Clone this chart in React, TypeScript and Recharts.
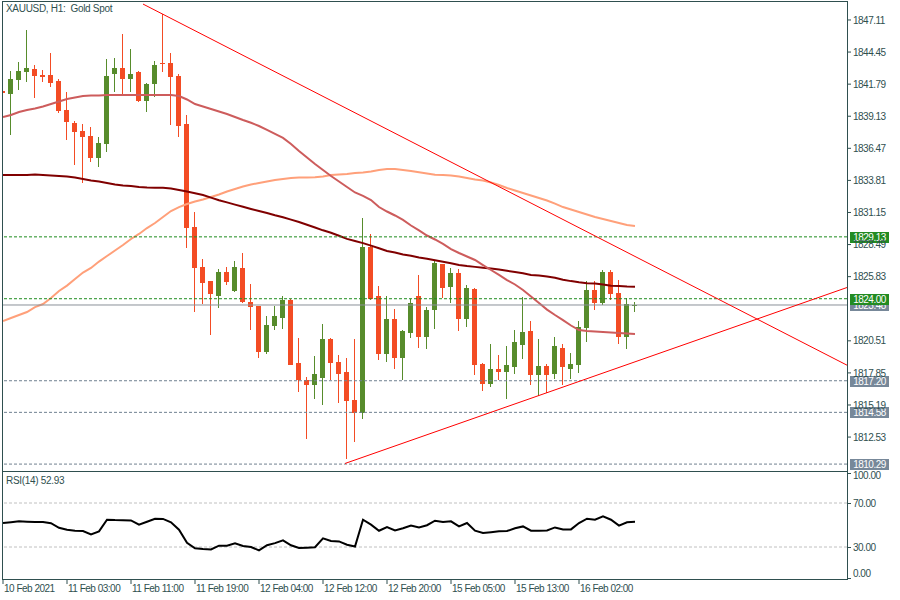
import { ComposedChart, Bar, Line, XAxis, YAxis, ReferenceLine } from "recharts";

// XAUUSD H1 candles, one entry per bar
const opens = [
  1841.18, 1840.97, 1842.13, 1842.8, 1843.05, 1842.55, 1842.55, 1842.05, 1839.65, 1838.57,
  1837.91, 1837.49, 1835.67, 1836.83, 1842.63, 1843.13, 1842.22, 1842.8, 1840.39, 1841.8,
  1843.54, 1843.54, 1842.47, 1838.49, 1829.95, 1826.63, 1825.47, 1824.22, 1826.21, 1824.64,
  1826.55, 1823.73, 1823.39, 1819.58, 1821.74, 1822.4, 1823.89, 1818.67, 1817.26, 1816.84,
  1817.42, 1820.66, 1818.75, 1817.92, 1815.6, 1814.52, 1828.29, 1824.22, 1819.41, 1822.32,
  1819.08, 1821.16, 1824.22, 1820.82, 1823.06, 1826.88, 1824.97, 1826.13, 1822.32, 1824.8,
  1818.59, 1816.93, 1818.17, 1817.92, 1818.34, 1820.16, 1821.32, 1817.67, 1818.42, 1817.76,
  1819.91, 1818.17, 1818.5, 1821.57, 1824.72, 1823.64, 1826.21, 1824.47, 1820.82, 1823.4,
];
const highs = [
  1841.25, 1842.88, 1843.63, 1846.28, 1843.38, 1842.96, 1844.37, 1842.22, 1841.14, 1838.73,
  1838.49, 1838.24, 1837.41, 1843.88, 1843.96, 1845.95, 1844.71, 1842.85, 1841.85, 1843.71,
  1847.61, 1844.37, 1842.63, 1839.23, 1831.19, 1827.29, 1825.5, 1826.46, 1826.63, 1827.13,
  1827.79, 1825.22, 1823.42, 1822.57, 1823.39, 1824.22, 1823.95, 1820.74, 1817.51, 1819.25,
  1821.9, 1820.74, 1819.33, 1819.08, 1820.66, 1830.69, 1829.37, 1825.05, 1824.22, 1823.15,
  1821.4, 1823.98, 1825.97, 1823.31, 1827.13, 1826.92, 1826.55, 1826.46, 1825.14, 1824.89,
  1818.67, 1820.24, 1819.33, 1820.08, 1821.4, 1824.14, 1822.15, 1820.66, 1818.59, 1820.82,
  1820.24, 1819.5, 1822.15, 1825.47, 1825.47, 1826.38, 1826.38, 1825.55, 1824.06, 1823.73,
];
const lows = [
  1841.0, 1837.57, 1841.31, 1841.97, 1840.64, 1841.97, 1841.55, 1839.4, 1837.16, 1835.09,
  1833.59, 1835.34, 1834.92, 1836.16, 1841.14, 1840.97, 1841.14, 1840.31, 1839.48, 1840.72,
  1842.8, 1838.4, 1837.41, 1828.2, 1822.9, 1823.56, 1820.99, 1823.23, 1825.14, 1824.6,
  1823.64, 1821.4, 1819.08, 1819.41, 1821.4, 1821.49, 1818.45, 1816.26, 1812.37, 1815.68,
  1815.19, 1817.26, 1815.35, 1810.71, 1812.12, 1814.03, 1823.89, 1818.92, 1818.75, 1818.17,
  1817.26, 1820.74, 1819.91, 1819.83, 1821.49, 1824.06, 1823.64, 1821.32, 1821.65, 1817.67,
  1816.35, 1816.68, 1817.26, 1815.68, 1817.76, 1819.0, 1816.84, 1815.93, 1816.18, 1817.34,
  1816.84, 1817.34, 1817.84, 1820.41, 1823.06, 1823.48, 1823.89, 1820.24, 1819.83, 1822.9,
];
const closes = [
  1841.05, 1842.22, 1842.88, 1843.13, 1842.47, 1842.38, 1841.89, 1839.56, 1838.65, 1837.82,
  1837.41, 1835.67, 1836.91, 1842.47, 1843.13, 1842.22, 1842.63, 1840.39, 1841.8, 1843.38,
  1843.46, 1842.38, 1838.32, 1829.86, 1826.55, 1825.3, 1824.39, 1826.21, 1825.38, 1826.63,
  1823.73, 1823.31, 1819.58, 1821.82, 1822.57, 1823.89, 1818.5, 1817.26, 1816.84, 1817.76,
  1820.66, 1818.67, 1817.76, 1815.52, 1814.52, 1828.29, 1823.98, 1819.41, 1822.32, 1819.08,
  1821.32, 1823.64, 1820.82, 1823.06, 1826.96, 1824.89, 1826.13, 1822.32, 1824.89, 1818.5,
  1816.93, 1818.17, 1817.92, 1818.5, 1820.41, 1821.24, 1817.67, 1818.42, 1817.67, 1820.08,
  1818.34, 1818.59, 1821.65, 1824.72, 1823.64, 1826.21, 1824.39, 1820.82, 1823.56, 1823.48,
];

// moving averages
const fastMa = [
  1839.07, 1839.23, 1839.48, 1839.65, 1839.77, 1839.94, 1840.14, 1840.35, 1840.56, 1840.68,
  1840.81, 1840.85, 1840.85, 1840.89, 1840.89, 1840.89, 1840.89, 1840.89, 1840.89, 1840.89,
  1840.89, 1840.89, 1840.81, 1840.52, 1840.14, 1839.94, 1839.73, 1839.52, 1839.31, 1839.07,
  1838.82, 1838.59, 1838.32, 1837.99, 1837.66, 1837.33, 1836.83, 1836.25, 1835.71, 1835.17,
  1834.67, 1834.17, 1833.72, 1833.26, 1832.81, 1832.52, 1832.18, 1831.6, 1831.23, 1830.9,
  1830.53, 1830.07, 1829.66, 1829.24, 1828.91, 1828.54, 1828.12, 1827.79, 1827.5, 1827.21,
  1826.79, 1826.38, 1825.97, 1825.55, 1825.18, 1824.72, 1824.18, 1823.64, 1823.1, 1822.65,
  1822.23, 1821.78, 1821.4, 1821.32, 1821.28, 1821.24, 1821.2, 1821.16, 1821.11, 1821.07,
];
const midMa = [
  1822.15, 1822.4, 1822.65, 1822.9, 1823.31, 1823.56, 1824.06, 1824.64, 1825.09, 1825.63,
  1826.17, 1826.55, 1827.08, 1827.54, 1828.0, 1828.45, 1828.95, 1829.37, 1829.86, 1830.28,
  1830.77, 1831.27, 1831.6, 1831.85, 1832.06, 1832.23, 1832.43, 1832.64, 1832.89, 1833.1,
  1833.3, 1833.47, 1833.59, 1833.72, 1833.84, 1833.93, 1834.01, 1834.05, 1834.05, 1834.07,
  1834.13, 1834.26, 1834.3, 1834.34, 1834.42, 1834.47, 1834.55, 1834.67, 1834.75, 1834.75,
  1834.67, 1834.59, 1834.48, 1834.38, 1834.28, 1834.26, 1834.22, 1834.13, 1834.01, 1833.88,
  1833.8, 1833.63, 1833.43, 1833.18, 1832.97, 1832.77, 1832.56, 1832.35, 1832.14, 1831.89,
  1831.6, 1831.4, 1831.19, 1830.98, 1830.77, 1830.61, 1830.44, 1830.28, 1830.11, 1830.03,
];
const slowMa = [
  1834.26, 1834.26, 1834.26, 1834.26, 1834.3, 1834.26, 1834.22, 1834.17, 1834.13, 1834.05,
  1833.93, 1833.8, 1833.72, 1833.6, 1833.47, 1833.39, 1833.35, 1833.26, 1833.22, 1833.21,
  1833.21, 1833.14, 1833.01, 1832.89, 1832.75, 1832.6, 1832.38, 1832.16, 1831.99, 1831.8,
  1831.62, 1831.44, 1831.27, 1831.11, 1830.92, 1830.75, 1830.56, 1830.36, 1830.13, 1829.9,
  1829.67, 1829.47, 1829.22, 1828.96, 1828.79, 1828.61, 1828.4, 1828.18, 1827.96, 1827.83,
  1827.67, 1827.56, 1827.42, 1827.32, 1827.19, 1827.06, 1826.94, 1826.8, 1826.71, 1826.64,
  1826.56, 1826.5, 1826.42, 1826.31, 1826.21, 1826.11, 1825.97, 1825.93, 1825.84, 1825.73,
  1825.58, 1825.46, 1825.36, 1825.29, 1825.27, 1825.17, 1825.08, 1825.05, 1825.01, 1824.99,
];

// RSI(14)
const rsi = [
  51.8, 52.5, 53.3, 53, 52.7, 52.7, 51.6, 47.5, 45.7, 44.8,
  44.5, 41.5, 44.2, 54.8, 54.5, 54.4, 54.2, 50.3, 53, 55.7,
  55.5, 52.5, 45.7, 33.9, 28.9, 28.2, 27.8, 31.2, 31.2, 33.3,
  30.9, 30, 26.9, 31.6, 33.5, 36, 31.6, 29.1, 29.4, 29.8,
  37.8, 35.5, 35.1, 32.1, 30.5, 54.8, 50.3, 44.8, 48.2, 45.1,
  47.1, 49.6, 47.8, 49.8, 53.9, 52.7, 53.3, 48.7, 51.8, 44.8,
  42.7, 43.5, 44.4, 44.5, 47.1, 48.7, 44.8, 44.8, 45.1, 47.8,
  46, 46, 51.8, 55.7, 54.8, 57.8, 54.8, 49.4, 52.5, 52.93,
];

const timeLabels = [
  "10 Feb 2021", "11 Feb 03:00", "11 Feb 11:00", "11 Feb 19:00", "12 Feb 04:00",
  "12 Feb 12:00", "12 Feb 20:00", "15 Feb 05:00", "15 Feb 13:00", "16 Feb 02:00",
];
const labelBars = [0, 8, 16, 24, 32, 40, 48, 56, 64, 72];

// 1823.17 sits fully under the price tags in the reference, so it is left out
const priceTicks = [
  1847.11, 1844.45, 1841.79, 1839.13, 1836.47, 1833.81, 1831.15,
  1828.49, 1825.83, 1820.51, 1817.85, 1815.19, 1812.53,
];
const rsiTicks = [0, 30, 70, 100];
const rsiLevels = [70, 30];

const greenLevels = [1829.13, 1824.0];
const greyLevels = [1817.2, 1814.58, 1810.29];
const lastPrice = 1823.48;

// trend lines: [bar index, price] endpoints
const upperTrend = [[17.5, 1848.43], [105.5, 1818.49]];
const lowerTrend = [[42.75, 1810.34], [105.5, 1824.93]];

const rows = opens.map((o, i) => ({
  i,
  o,
  h: highs[i],
  l: lows[i],
  c: closes[i],
  range: [lows[i], highs[i]],
  fastMa: fastMa[i],
  midMa: midMa[i],
  slowMa: slowMa[i],
  rsi: rsi[i],
}));

const FONT = '"Liberation Sans", Arial, sans-serif';
const AXIS = "#2F4F4F";
const BULL = "#578C2C";
const BEAR = "#F34C24";
const X_DOMAIN = [0, 105.5];

function Candle(props: any) {
  const { x, y, width, height, payload } = props;
  if (x == null || !payload) return null;
  const { o, h, l, c } = payload;
  const top = Math.min(y, y + height);
  const full = Math.abs(height);
  const span = h - l || 1;
  const toY = (v: number) => top + ((h - v) / span) * full;
  const col = c >= o ? BULL : BEAR;
  const mid = Math.floor(x + width / 2);
  const bTop = Math.round(toY(Math.max(o, c)));
  const bBot = Math.round(toY(Math.min(o, c)));
  return (
    <g shapeRendering="crispEdges">
      <rect x={mid} y={Math.round(top)} width={1} height={Math.max(1, Math.round(full))} fill={col} />
      <rect x={mid - 2} y={bTop} width={5} height={Math.max(1, bBot - bTop)} fill={col} />
    </g>
  );
}

function PriceTag({ viewBox, price, fill }: any) {
  if (!viewBox) return null;
  const x = Math.round(viewBox.x + viewBox.width) + 3;
  const y = Math.round(viewBox.y);
  return (
    <g>
      <rect x={x} y={y - 5} width={39} height={11} fill={fill} shapeRendering="crispEdges" />
      <text x={x + 19.5} y={y} dy="0.38em" textAnchor="middle" fill="#fff" fontSize={10} fontFamily={FONT} letterSpacing={-0.5}>
        {price.toFixed(2)}
      </text>
    </g>
  );
}

function PriceTick({ x, y, payload }: any) {
  return (
    <text x={x} y={y} dy="0.36em" fill={AXIS} fontSize={10} fontFamily={FONT} letterSpacing={-0.5}>
      {Number(payload.value).toFixed(2)}
    </text>
  );
}

function RsiTick({ x, y, payload }: any) {
  const v = payload.value;
  const shift = v === 100 ? 5.5 : v === 0 ? -7 : 0;
  const ly = Math.round(y + (v === 100 ? 2.5 : v === 0 ? -2.5 : 0)) + 0.5;
  return (
    <g>
      <line x1={847} x2={851} y1={ly} y2={ly} stroke={AXIS} />
      <text x={x} y={y + shift} dy="0.36em" fill={AXIS} fontSize={10} fontFamily={FONT} letterSpacing={-0.5}>
        {v.toFixed(2)}
      </text>
    </g>
  );
}

function TimeTick({ x, y, payload }: any) {
  const idx = labelBars.indexOf(payload.value);
  return (
    <text x={x + 1} y={y} dy="0.71em" fill={AXIS} fontSize={10} fontFamily={FONT} letterSpacing={-0.5}>
      {timeLabels[idx]}
    </text>
  );
}

export default function App() {
  return (
    <div style={{ position: "absolute", left: 0, top: 0, width: 900, height: 600, background: "#fff", overflow: "hidden" }}>
      <div style={{ position: "absolute", left: 0, top: 0 }}>
        <ComposedChart width={900} height={472} data={rows} margin={{ top: 2, right: 0, bottom: 2, left: 3 }}>
          <XAxis dataKey="i" type="number" domain={X_DOMAIN} hide allowDataOverflow />
          <YAxis
            orientation="right"
            width={53}
            domain={[1809.8, 1848.6]}
            ticks={priceTicks}
            interval={0}
            allowDataOverflow
            axisLine={false}
            tickSize={4}
            tickLine={{ stroke: AXIS }}
            tick={<PriceTick />}
          />
          <Bar dataKey="range" barSize={5} shape={<Candle />} isAnimationActive={false} />
          <Line type="linear" dataKey="midMa" stroke="#FFA07A" strokeWidth={2} dot={false} activeDot={false} isAnimationActive={false} />
          <Line type="linear" dataKey="slowMa" stroke="#800000" strokeWidth={2} dot={false} activeDot={false} isAnimationActive={false} />
          <Line type="linear" dataKey="fastMa" stroke="#CD5C5C" strokeWidth={2} dot={false} activeDot={false} isAnimationActive={false} />
          {greyLevels.map((p) => (
            <ReferenceLine key={p} y={p} stroke="#708090" strokeDasharray="3 2" label={<PriceTag price={p} fill="#778899" />} />
          ))}
          <ReferenceLine y={lastPrice} stroke="#8A9099" label={<PriceTag price={lastPrice} fill="#778899" />} />
          {greenLevels.map((p) => (
            <ReferenceLine key={p} y={p} stroke="#1E8C1E" strokeDasharray="3 2" label={<PriceTag price={p} fill="#228B22" />} />
          ))}
          <ReferenceLine
            segment={upperTrend.map(([x, y]) => ({ x, y }))}
            stroke="#FF0000"
            strokeWidth={1}
            ifOverflow="hidden"
          />
          <ReferenceLine
            segment={lowerTrend.map(([x, y]) => ({ x, y }))}
            stroke="#FF0000"
            strokeWidth={1}
            ifOverflow="hidden"
          />
        </ComposedChart>
      </div>

      <div style={{ position: "absolute", left: 0, top: 470 }}>
        <ComposedChart width={900} height={130} data={rows} margin={{ top: 0, right: 0, bottom: 0, left: 3 }}>
          <XAxis
            dataKey="i"
            type="number"
            domain={X_DOMAIN}
            ticks={labelBars}
            interval={0}
            allowDataOverflow
            height={20}
            axisLine={false}
            tickSize={4}
            tickMargin={1}
            tickLine={{ stroke: AXIS }}
            tick={<TimeTick />}
          />
          <YAxis
            orientation="right"
            width={53}
            domain={[0, 100]}
            ticks={rsiTicks}
            interval={0}
            axisLine={false}
            tickSize={4}
            tickLine={false}
            tick={<RsiTick />}
          />
          {rsiLevels.map((v) => (
            <ReferenceLine key={v} y={v} stroke="#C0C0C0" strokeDasharray="3 2" />
          ))}
          <Line type="linear" dataKey="rsi" stroke="#000" strokeWidth={2} dot={false} activeDot={false} isAnimationActive={false} />
        </ComposedChart>
      </div>

      <div style={{ position: "absolute", left: 2, top: 1, width: 846, height: 471, border: `1px solid ${AXIS}`, boxSizing: "border-box", pointerEvents: "none" }} />
      <div style={{ position: "absolute", left: 2, top: 471, width: 846, height: 109, border: `1px solid ${AXIS}`, boxSizing: "border-box", pointerEvents: "none" }} />

      <div style={{ position: "absolute", left: 6, top: 3, fontFamily: FONT, fontSize: 10, letterSpacing: -0.3, color: AXIS, lineHeight: "12px", whiteSpace: "pre" }}>
        {"XAUUSD, H1:  Gold Spot"}
      </div>
      <div style={{ position: "absolute", left: 6, top: 475, fontFamily: FONT, fontSize: 10, letterSpacing: -0.3, color: AXIS, lineHeight: "12px" }}>
        {"RSI(14) " + rsi[rsi.length - 1].toFixed(2)}
      </div>
    </div>
  );
}
